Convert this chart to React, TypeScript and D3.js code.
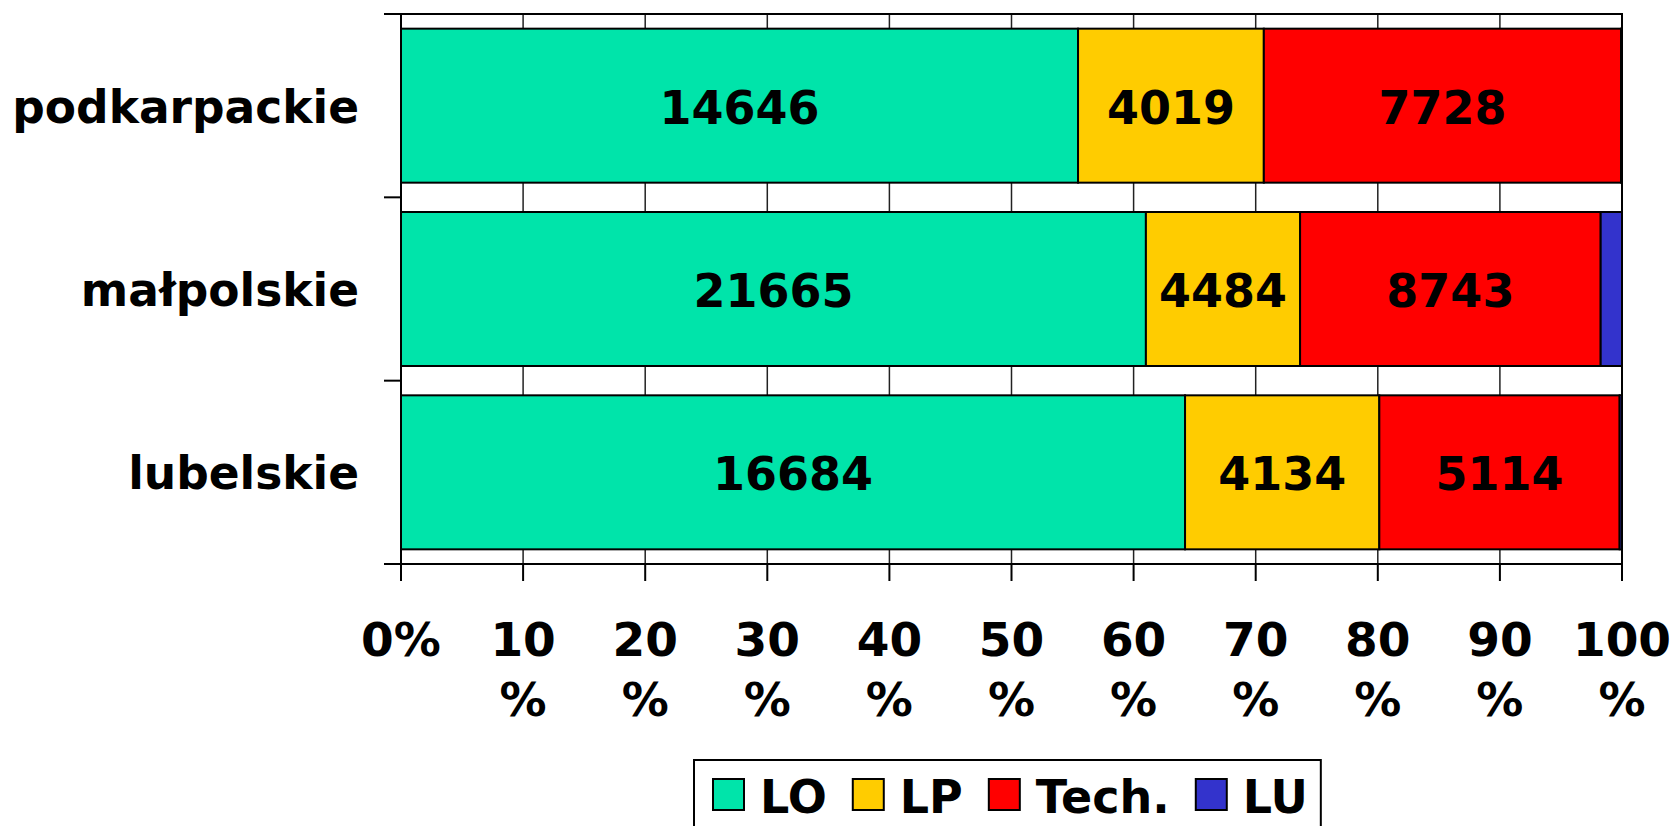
import React, { useEffect, useRef } from "react"
import * as d3 from "d3"

const WIDTH = 1677
const HEIGHT = 826

const categories = ["podkarpackie", "małpolskie", "lubelskie"]
const seriesNames = ["LO", "LP", "Tech.", "LU"]
const seriesColors = ["#00E4AA", "#FFCC00", "#FF0000", "#3333CC"]

const valuesLO = [14646, 21665, 16684]
const valuesLP = [4019, 4484, 4134]
const valuesTech = [7728, 8743, 5114]
const valuesLU = [20, 620, 50]

const tickValues = [0, 0.1, 0.2, 0.3, 0.4, 0.5, 0.6, 0.7, 0.8, 0.9, 1]
const tickLabels = ["0%", "10|%", "20|%", "30|%", "40|%", "50|%", "60|%", "70|%", "80|%", "90|%", "100|%"]

const FONT = "'DejaVu Sans', Verdana, sans-serif"

const App = () => {
	const svgRef = useRef<SVGSVGElement>(null)

	useEffect(() => {
		if (!svgRef.current) return
		const svg = d3.select(svgRef.current)
		svg.selectAll("*").remove()

		const margin = { top: 14, right: 55, bottom: 262, left: 401 }
		const plotRight = WIDTH - margin.right
		const plotBottom = HEIGHT - margin.bottom

		const rows = categories.map((c, i) => ({
			category: c,
			LO: valuesLO[i],
			LP: valuesLP[i],
			"Tech.": valuesTech[i],
			LU: valuesLU[i],
		}))

		const stack = d3.stack<any>().keys(seriesNames).offset(d3.stackOffsetExpand)
		const layers = stack(rows)

		const x = d3.scaleLinear().domain([0, 1]).range([margin.left, plotRight])
		const y = d3
			.scaleBand()
			.domain(categories)
			.range([margin.top, plotBottom])
			.paddingInner(0.16)
			.paddingOuter(0.08)

		const color = d3.scaleOrdinal<string>().domain(seriesNames).range(seriesColors)

		// vertical gridlines behind the bars
		svg.append("g")
			.selectAll("line")
			.data(tickValues.slice(1, -1))
			.join("line")
			.attr("x1", (d) => x(d))
			.attr("x2", (d) => x(d))
			.attr("y1", margin.top)
			.attr("y2", plotBottom)
			.attr("stroke", "#222")
			.attr("stroke-width", 1.5)

		// plot frame
		svg.append("rect")
			.attr("x", margin.left)
			.attr("y", margin.top)
			.attr("width", plotRight - margin.left)
			.attr("height", plotBottom - margin.top)
			.attr("fill", "none")
			.attr("stroke", "#000")
			.attr("stroke-width", 2)

		// stacked bars
		const layerG = svg.append("g")
			.selectAll("g")
			.data(layers)
			.join("g")
			.attr("fill", (d) => color(d.key))

		layerG
			.selectAll("rect")
			.data((d) => d)
			.join("rect")
			.attr("x", (d) => x(d[0]))
			.attr("y", (d: any) => y(d.data.category)!)
			.attr("width", (d) => x(d[1]) - x(d[0]))
			.attr("height", y.bandwidth())
			.attr("stroke", "#000")
			.attr("stroke-width", 2)

		// value labels (LU too thin to label)
		layers
			.filter((l) => l.key !== "LU")
			.forEach((l) => {
				svg.append("g")
					.selectAll("text")
					.data(l)
					.join("text")
					.attr("x", (d) => (x(d[0]) + x(d[1])) / 2)
					.attr("y", (d: any) => y(d.data.category)! + y.bandwidth() / 2 + 18)
					.attr("text-anchor", "middle")
					.style("font-family", FONT)
					.style("font-weight", "bold")
					.style("font-size", "46px")
					.text((d: any) => d.data[l.key])
			})

		// left axis ticks at band boundaries
		const bandEdges = [0, 1, 2, 3].map((i) => margin.top + i * ((plotBottom - margin.top) / 3))
		svg.append("g")
			.selectAll("line")
			.data(bandEdges)
			.join("line")
			.attr("x1", margin.left - 17)
			.attr("x2", margin.left)
			.attr("y1", (d) => d)
			.attr("y2", (d) => d)
			.attr("stroke", "#000")
			.attr("stroke-width", 2)

		// category labels
		svg.append("g")
			.selectAll("text")
			.data(categories)
			.join("text")
			.attr("x", 359)
			.attr("y", (d) => y(d)! + y.bandwidth() / 2 + 17)
			.attr("text-anchor", "end")
			.style("font-family", FONT)
			.style("font-weight", "bold")
			.style("font-size", "45.5px")
			.text((d) => d)

		// bottom axis ticks
		svg.append("g")
			.selectAll("line")
			.data(tickValues)
			.join("line")
			.attr("x1", (d) => x(d))
			.attr("x2", (d) => x(d))
			.attr("y1", plotBottom)
			.attr("y2", plotBottom + 17)
			.attr("stroke", "#000")
			.attr("stroke-width", 2)

		const tickText = svg.append("g")
			.selectAll("text")
			.data(tickValues)
			.join("text")
			.attr("text-anchor", "middle")
			.style("font-family", FONT)
			.style("font-weight", "bold")
			.style("font-size", "47px")

		tickText.each(function (d, i) {
			const parts = tickLabels[i].split("|")
			const t = d3.select(this)
			parts.forEach((p, j) => {
				t.append("tspan")
					.attr("x", x(d))
					.attr("y", 656 + j * 60)
					.text(p)
			})
		})

		// legend
		const legend = svg.append("g")
		const legendLeft = 694
		const legendTop = 760
		let cx = legendLeft + 19
		seriesNames.forEach((name, i) => {
			legend.append("rect")
				.attr("x", cx)
				.attr("y", 779)
				.attr("width", 31)
				.attr("height", 31)
				.attr("fill", seriesColors[i])
				.attr("stroke", "#000")
				.attr("stroke-width", 2)
			const label = legend.append("text")
				.attr("x", cx + 47)
				.attr("y", 813)
				.style("font-family", FONT)
				.style("font-weight", "bold")
				.style("font-size", "46px")
				.text(name)
			const w = (label.node() as SVGTextElement).getComputedTextLength()
			cx = cx + 47 + w + 26
		})
		legend.insert("rect", ":first-child")
			.attr("x", legendLeft)
			.attr("y", legendTop)
			.attr("width", cx - 26 + 13 - legendLeft)
			.attr("height", 100)
			.attr("fill", "#fff")
			.attr("stroke", "#000")
			.attr("stroke-width", 2)
	}, [])

	return (
		<div style={{ position: "absolute", top: 0, left: 0, width: WIDTH, height: HEIGHT, background: "#fff" }}>
			<svg ref={svgRef} width={WIDTH} height={HEIGHT} style={{ display: "block" }}></svg>
		</div>
	)
}

export default App
